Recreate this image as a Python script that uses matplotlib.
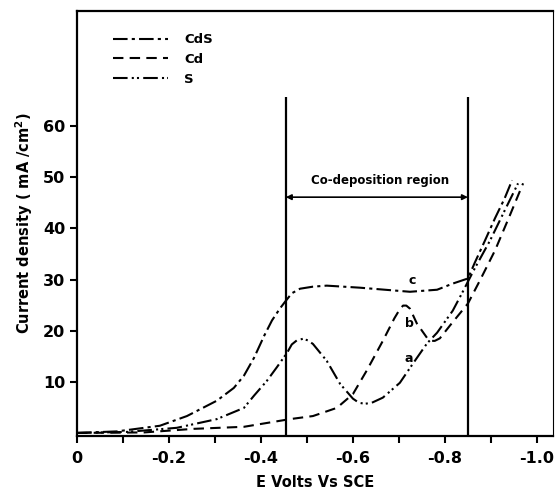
import matplotlib.pyplot as plt

plt.rcParams['font.family'] = ['DejaVu Sans']
plt.rcParams['font.weight'] = 'bold'

# curve c : CdS
e_cds = [0.0, -0.087, -0.180, -0.239, -0.304, -0.341, -0.363, -0.385, -0.407, -0.424, -0.441,
         -0.452, -0.467, -0.485, -0.513, -0.543, -0.615, -0.724, -0.783, -0.817, -0.850,
         -0.865, -0.887, -0.909, -0.930, -0.946]
j_cds = [0.0, 0.3, 1.4, 3.3, 6.3, 8.8, 11.2, 14.7, 19.0, 22.0, 24.3,
         25.6, 27.3, 28.2, 28.6, 28.8, 28.4, 27.6, 28.0, 29.2, 30.2,
         33.3, 37.6, 42.0, 45.9, 49.4]

# curve b : Cd
e_cd = [0.0, -0.146, -0.254, -0.363, -0.463, -0.513, -0.565, -0.600, -0.630, -0.665, -0.690,
        -0.702, -0.709, -0.716, -0.724, -0.739, -0.761, -0.770, -0.778, -0.789, -0.811,
        -0.850, -0.876, -0.909, -0.941, -0.970]
j_cd = [0.0, 0.1, 0.8, 1.2, 2.7, 3.3, 4.9, 7.6, 12.2, 18.0, 22.4,
        24.2, 24.9, 24.9, 24.3, 21.4, 18.6, 18.0, 18.0, 18.5, 21.0,
        25.3, 29.8, 35.7, 42.5, 48.8]

# curve a : S
e_s = [0.0, -0.109, -0.217, -0.304, -0.363, -0.385, -0.413, -0.435, -0.457, -0.467, -0.478,
       -0.491, -0.502, -0.513, -0.543, -0.572, -0.600, -0.613, -0.626, -0.641, -0.665,
       -0.702, -0.730, -0.761, -0.783, -0.817, -0.837, -0.865, -0.898, -0.930, -0.959]
j_s = [0.0, 0.2, 1.0, 2.7, 4.9, 7.3, 10.2, 12.9, 15.7, 17.3, 18.1,
       18.4, 18.1, 17.4, 14.1, 9.6, 6.7, 5.9, 5.7, 5.9, 6.9,
       9.8, 13.5, 17.5, 19.6, 23.9, 27.3, 32.2, 37.6, 43.5, 48.8]

region = [-0.454, -0.850]
region_top = 65.7

fig = plt.figure(figsize=(5.56, 4.97), dpi=100)
ax = fig.add_axes([77 / 556, 61 / 497, 476 / 556, 425 / 497])

ax.plot(e_cds, j_cds, color='black', lw=1.5, linestyle=(0, (7, 2, 1.5, 2)), label='CdS')
ax.plot(e_cd, j_cd, color='black', lw=1.5, linestyle=(0, (5, 3)), label='Cd')
ax.plot(e_s, j_s, color='black', lw=1.5, linestyle=(0, (7, 2, 1, 1.5, 1, 2)), label='S')

# co-deposition region
ax.vlines(region, -0.6, region_top, color='black', lw=1.6)
ax.annotate('', xy=(region[0], 46.1), xytext=(region[1], 46.1),
            arrowprops=dict(arrowstyle='<|-|>', color='black', lw=1.2,
                            mutation_scale=8, shrinkA=0, shrinkB=0))
ax.text(-0.659, 49.4, 'Co-deposition region', ha='center', va='center', fontsize=8.5,
        fontweight='bold')

ax.text(-0.728, 29.8, 'c', ha='center', va='center', fontsize=9, fontweight='bold')
ax.text(-0.722, 21.4, 'b', ha='center', va='center', fontsize=9, fontweight='bold')
ax.text(-0.722, 14.5, 'a', ha='center', va='center', fontsize=9, fontweight='bold')

ax.set_xlim(0, -1.035)
ax.set_ylim(-0.6, 82.5)

ax.set_xticks([0, -0.2, -0.4, -0.6, -0.8, -1.0])
ax.set_xticklabels(['0', '-0.2', '-0.4', '-0.6', '-0.8', '-1.0'])
ax.set_xticks([-0.1, -0.3, -0.5, -0.7, -0.9], minor=True)
ax.set_yticks([10, 20, 30, 40, 50, 60])
ax.set_yticklabels(['10', '20', '30', '40', '50', '60'])
ax.tick_params(axis='both', which='both', direction='out', length=5, width=1.5,
               labelsize=11.5)
ax.tick_params(axis='x', pad=6)

for s in ['left', 'bottom', 'top']:
    ax.spines[s].set_linewidth(1.6)
ax.spines['right'].set_linewidth(0.8)

ax.set_xlabel('E Volts Vs SCE', fontsize=10.5, fontweight='bold', labelpad=6)
ax.set_ylabel('Current density ( mA /cm$^\\mathbf{2}$)', fontsize=10.5, fontweight='bold',
              labelpad=6)

ax.legend(loc='upper left', bbox_to_anchor=(0.05, 0.975), frameon=False,
          handlelength=4.2, handletextpad=1.2, labelspacing=0.5,
          prop={'weight': 'bold', 'size': 9.5})

fig.savefig('out.png', dpi=100)
